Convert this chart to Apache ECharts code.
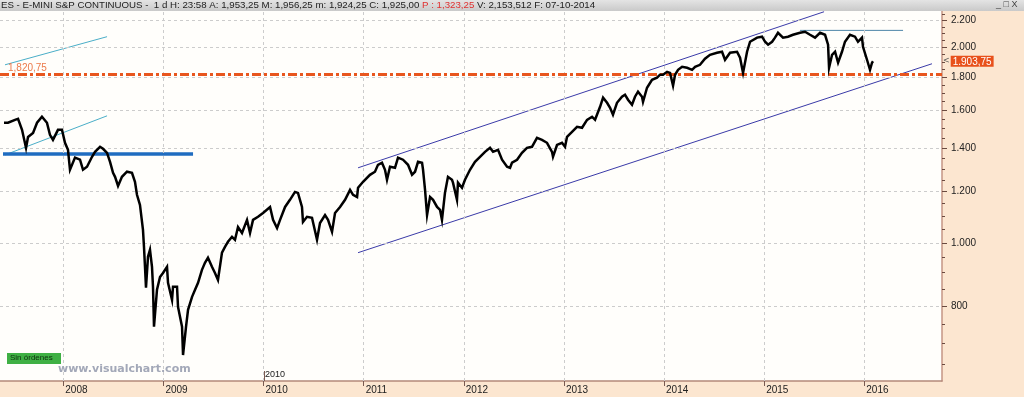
<!DOCTYPE html>
<html>
<head>
<meta charset="utf-8">
<script src="https://cdn.jsdelivr.net/npm/echarts@6/dist/echarts.min.js"></script>
<style>
html,body{margin:0;padding:0;background:#fce6d0;}
#c{width:1024px;height:397px;}
</style>
</head>
<body>
<div id="c"></div>
<script>
// ---- data (decimal years, E-mini S&P closing level) ----
const years = [
2007.408,2007.448,2007.518,2007.548,2007.588,2007.628,2007.648,2007.698,2007.738,2007.787,
2007.837,2007.867,2007.897,2007.947,2007.987,2008.017,2008.047,2008.067,2008.117,2008.167,
2008.197,2008.237,2008.287,2008.317,2008.367,2008.397,2008.437,2008.467,2008.497,2008.517,
2008.547,2008.586,2008.636,2008.686,2008.716,2008.736,2008.766,2008.796,2008.806,2008.816,
2008.826,2008.846,2008.866,2008.886,2008.896,2008.906,2008.936,2008.966,2008.996,2009.036,
2009.046,2009.086,2009.096,2009.136,2009.146,2009.186,2009.196,2009.226,2009.246,2009.286,
2009.316,2009.346,2009.385,2009.415,2009.445,2009.485,2009.515,2009.545,2009.585,2009.615,
2009.645,2009.685,2009.715,2009.745,2009.785,2009.835,2009.865,2009.895,2009.945,2009.995,
2010.065,2010.095,2010.135,2010.165,2010.215,2010.264,2010.314,2010.344,2010.384,2010.394,
2010.434,2010.484,2010.534,2010.564,2010.614,2010.644,2010.684,2010.714,2010.764,2010.814,
2010.864,2010.894,2010.934,2010.944,2010.994,2011.063,2011.113,2011.143,2011.183,2011.213,
2011.233,2011.263,2011.313,2011.343,2011.393,2011.443,2011.483,2011.513,2011.543,2011.583,
2011.593,2011.613,2011.633,2011.663,2011.693,2011.733,2011.763,2011.782,2011.812,2011.842,
2011.882,2011.892,2011.932,2011.942,2011.982,2012.012,2012.062,2012.112,2012.162,2012.212,
2012.262,2012.292,2012.342,2012.382,2012.432,2012.462,2012.482,2012.532,2012.581,2012.631,
2012.681,2012.731,2012.781,2012.831,2012.881,2012.891,2012.931,2012.981,2013.011,2013.031,
2013.081,2013.131,2013.181,2013.231,2013.281,2013.311,2013.361,2013.391,2013.431,2013.461,
2013.490,2013.530,2013.580,2013.610,2013.640,2013.680,2013.710,2013.740,2013.780,2013.790,
2013.830,2013.880,2013.930,2013.960,2013.990,2014.030,2014.060,2014.090,2014.110,2014.140,
2014.180,2014.230,2014.280,2014.310,2014.359,2014.409,2014.459,2014.529,2014.579,2014.609,
2014.659,2014.729,2014.759,2014.789,2014.829,2014.859,2014.929,2014.979,2015.009,2015.039,
2015.079,2015.108,2015.138,2015.188,2015.238,2015.288,2015.358,2015.408,2015.458,2015.508,
2015.558,2015.608,2015.638,2015.648,2015.678,2015.708,2015.738,2015.777,2015.807,2015.857,
2015.907,2015.937,2015.977,2015.987,2016.027,2016.057,2016.077,2016.087
];
const prices = [
1531,1531,1547,1552,1493,1400,1456,1477,1531,1564,
1531,1467,1441,1493,1493,1426,1391,1296,1353,1343,
1296,1310,1357,1381,1406,1396,1376,1333,1282,1264,
1224,1264,1287,1282,1242,1186,1144,1047,986,919,
853,952,976,919,856,743,847,886,899,919,
868,817,856,856,797,743,672,743,789,826,
847,868,909,932,949,919,899,877,966,986,
1004,1022,1011,1058,1036,1085,1036,1085,1097,1112,
1136,1085,1054,1085,1136,1165,1198,1194,1136,1077,
1097,1093,1011,1073,1104,1085,1040,1112,1136,1165,
1207,1186,1177,1216,1242,1273,1287,1319,1329,1296,
1251,1310,1305,1353,1343,1319,1273,1287,1333,1329,
1296,1207,1104,1177,1165,1136,1124,1085,1194,1264,
1251,1238,1165,1238,1216,1251,1296,1333,1357,1381,
1401,1381,1391,1343,1310,1305,1329,1343,1376,1401,
1406,1451,1441,1426,1381,1357,1415,1426,1406,1456,
1482,1509,1504,1547,1564,1547,1620,1673,1643,1614,
1575,1643,1679,1691,1661,1632,1679,1709,1679,1649,
1733,1783,1796,1815,1815,1834,1827,1746,1815,1847,
1867,1860,1847,1867,1880,1921,1948,1962,1969,1914,
1962,1969,1928,1827,1969,2040,2070,2077,2040,2019,
2040,2070,2106,2070,2077,2091,2106,2114,2091,2070,
2106,2091,2019,1860,1948,1969,1894,1969,2040,2091,
2077,2040,2070,2004,1914,1847,1894,1903.75
];
const yearTicks = [2008,2009,2010,2011,2012,2013,2014,2015,2016];
const yTickLabels = [800,1000,1200,1400,1600,1800,2000,2200];
const yMinorTicks = [650,700,750,850,900,950,1050,1100,1150,1250,1300,1350,1450,1500,1550,1650,1700,1750,1850,1900,1950,2050,2100,2150,2250];
const supportLevel = 1820.75;
const supportText = '1,820,75';
const lastPrice = 1903.75;
const lastPriceText = '1.903,75';
const blueSupport = [[2007.398,1371],[2009.296,1371]];
const cyanUpper = [[2007.418,1880],[2008.437,2077]];
const cyanLower = [[2007.418,1366],[2008.437,1569]];
const channelUpper = [[2010.944,1305],[2015.598,2269]];
const channelLower = [[2010.944,966],[2016.676,1887]];
const topLine = [[2015.358,2124],[2016.387,2124]];
const headerText = 'ES - E-MINI S&P CONTINUOUS -  1 d H: 23:58 A: 1,953,25 M: 1,956,25 m: 1,924,25 C: 1,925,00 ';
const headerRed = 'P : 1,323,25';
const headerTail = ' V: 2,153,512 F: 07-10-2014';

function fmtThousands(v){
  v = Math.round(v);
  if (v >= 1000) { const r = v % 1000; return Math.floor(v/1000) + '.' + String(r).padStart(3,'0'); }
  return String(v);
}

const chart = echarts.init(document.getElementById('c'), null, {renderer:'canvas'});
const FONT = 'Liberation Sans, Arial, sans-serif';

function seg(data, color, width, z){
  return {type:'line', data:data, showSymbol:false, symbol:'none', silent:true,
    lineStyle:{color:color, width:width}, z:z||4, animation:false};
}

const option = {
  animation:false,
  backgroundColor:'#fce6d0',
  textStyle:{fontFamily:FONT},
  grid:{left:0, right:82, top:11, bottom:16, show:true, backgroundColor:'#fffefb', borderWidth:0},
  xAxis:{type:'value', min:2007.368, max:2016.776,
    axisLine:{onZero:false, lineStyle:{color:'#b4897a', width:1.5}},
    axisTick:{customValues:yearTicks, length:5, lineStyle:{color:'#7a5a50'}},
    axisLabel:{customValues:yearTicks, align:'left', margin:4, color:'#222', fontSize:10, fontFamily:FONT,
      padding:[0,0,0,2], formatter:function(v){return String(Math.round(v));}},
    splitLine:{show:false}},
  yAxis:[
    {type:'log', position:'right', min:613, max:2275,
      axisLine:{show:true, onZero:false, lineStyle:{color:'#c49484', width:1.5}},
      axisTick:{show:true, customValues:yTickLabels, length:5, lineStyle:{color:'#6a4a40'}},
      axisLabel:{customValues:yTickLabels, margin:9, color:'#222', fontSize:10, fontFamily:FONT,
        formatter:function(v){return fmtThousands(v);}},
      splitLine:{show:false}},
    {type:'log', position:'right', min:613, max:2275,
      axisLine:{show:false, onZero:false},
      axisTick:{show:true, customValues:yMinorTicks, length:3, lineStyle:{color:'#6a4a40'}},
      axisLabel:{show:false}, splitLine:{show:false}}
  ],
  series:[
    {type:'line', data:[], silent:true, z:1,
      markLine:{silent:true, symbol:'none', animation:false,
        lineStyle:{type:[3,3], color:'#cccccc', width:1},
        label:{show:false},
        data: yearTicks.map(function(v){return {xAxis:v};}).concat(yTickLabels.map(function(v){return {yAxis:v};}))}
    },
    {type:'line', data:[], silent:true, z:2,
      markLine:{silent:true, symbol:'none', animation:false,
        lineStyle:{type:[9,3,3,3], color:'#e8561e', width:3},
        label:{show:true, position:'insideStartTop', formatter:supportText, color:'#ec7a4a', fontSize:10, fontFamily:FONT, distance:[8,1]},
        data:[{yAxis:supportLevel}]}
    },
    {type:'line', data:[], silent:true, z:6,
      markLine:{silent:true, symbol:'none', animation:false,
        lineStyle:{color:'rgba(0,0,0,0)', width:0.1},
        label:{show:true, position:'end', distance:1,
          formatter:'{a|<}{b|' + lastPriceText + '}',
          rich:{a:{color:'#555', fontSize:8, fontFamily:'DejaVu Sans, sans-serif', padding:[0,1,0,0]},
                b:{backgroundColor:'#e8501a', color:'#fff', fontSize:10, fontFamily:FONT, padding:[1,2,0,2]}}},
        data:[{yAxis:lastPrice}]}
    },
    seg(cyanUpper, '#4aaec8', 1, 3),
    seg(cyanLower, '#4aaec8', 1, 3),
    seg(blueSupport, '#1f6cc0', 3.5, 3),
    seg(channelUpper, '#3a3aa8', 1, 3),
    seg(channelLower, '#3a3aa8', 1, 3),
    seg(topLine, '#4e86a8', 1, 3),
    {type:'line', data: years.map(function(y,i){return [y, prices[i]];}), showSymbol:false, symbol:'none',
      silent:true, z:5, lineStyle:{color:'#000', width:2.5, join:'miter'}}
  ]
};
chart.setOption(option);

const x2010 = chart.convertToPixel({xAxisIndex:0}, 2010);
chart.setOption({graphic:[
  {type:'rect', left:0, top:0, shape:{width:1024, height:11}, z:100,
    style:{fill:new echarts.graphic.LinearGradient(0,0,0,1,[{offset:0,color:'#e4e4e4'},{offset:1,color:'#c9c9c9'}])}},
  {type:'text', left:1, top:0, z:101,
    style:{text:'{n|' + headerText + '}{r|' + headerRed + '}{n|' + headerTail + '}',
      rich:{n:{fill:'#222', fontSize:9.7, fontFamily:FONT}, r:{fill:'#e03030', fontSize:9.7, fontFamily:FONT}}}},
  {type:'text', left:996, top:0, z:101, style:{text:'_ □ X', fill:'#444', fontSize:9, fontFamily:FONT}},
  {type:'rect', left:7, top:353, shape:{width:54, height:11}, z:50, style:{fill:'#3fb044'}},
  {type:'text', left:10, top:354, z:51, style:{text:'Sin órdenes', fill:'#103010', fontSize:8, fontFamily:FONT}},
  {type:'text', left:58, top:364, z:51, style:{text:'www.visualchart.com', fill:'#a3a8b8', fontSize:11, fontWeight:'bold', fontFamily:'DejaVu Sans, sans-serif'}},
  {type:'line', z:51, shape:{x1:Math.round(x2010)+0.5, y1:371, x2:Math.round(x2010)+0.5, y2:381}, style:{stroke:'#7a5a50', lineWidth:1}},
  {type:'text', left:Math.round(x2010)+1, top:370, z:51, style:{text:'2010', fill:'#222', fontSize:9, fontFamily:FONT}}
]});
</script>
</body>
</html>
